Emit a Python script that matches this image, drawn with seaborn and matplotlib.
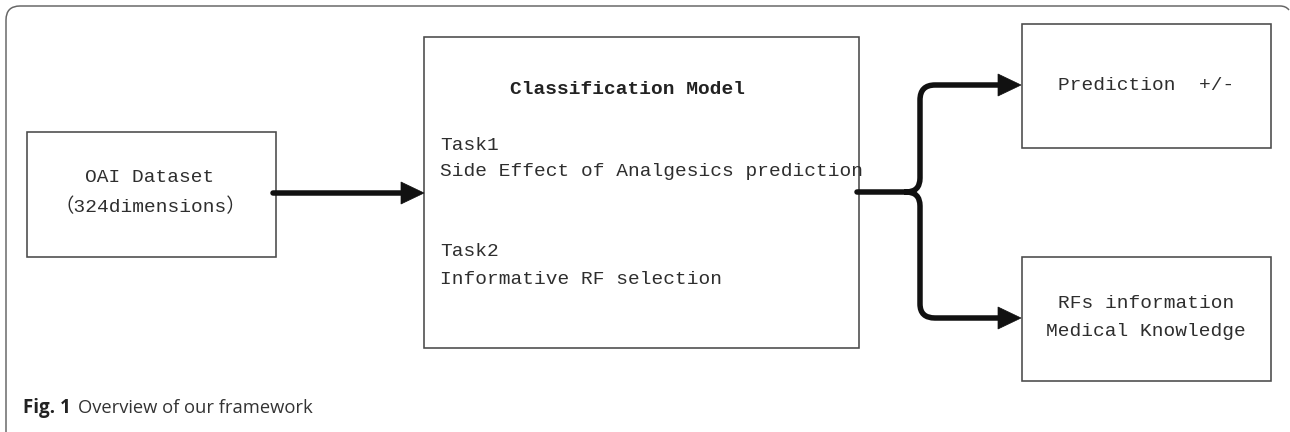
import matplotlib
matplotlib.use("Agg")
import matplotlib.pyplot as plt
import seaborn as sns
from matplotlib.patches import Rectangle, Polygon, PathPatch
from matplotlib.path import Path

# testi del diagramma
input_lines = ["OAI Dataset", "（324dimensions）"]
model_title = "Classification Model"
task_lines = ["Task1", "Side Effect of Analgesics prediction", "Task2", "Informative RF selection"]
output_top = ["Prediction  +/-"]
output_bottom = ["RFs information", "Medical Knowledge"]
caption_bold = "Fig. 1"
caption_text = "Overview of our framework"

sns.set_theme(style="white")
plt.rcParams['font.family'] = ['Liberation Mono', 'Noto Sans CJK SC', 'DejaVu Sans']

fig = plt.figure(figsize=(12.9, 4.32), dpi=100)
ax = fig.add_axes([0, 0, 1, 1])
ax.set_xlim(0, 1290)
ax.set_ylim(432, 0)
ax.axis('off')

PX = 0.72  # 1 pixel in punti
box_col = '#4a4a4a'
txt_col = '#2e2e2e'
fs = 14.0

# cornice esterna con angolo arrotondato
frame = Path([(6, 440), (6, 20), (6, 6), (20, 6), (1280, 6), (1286, 6), (1289, 10)],
             [Path.MOVETO, Path.LINETO, Path.CURVE3, Path.CURVE3, Path.LINETO, Path.CURVE3, Path.CURVE3])
ax.add_patch(PathPatch(frame, fill=False, edgecolor='#666666', lw=1.5 * PX))

def box(x0, y0, x1, y1):
    ax.add_patch(Rectangle((x0, y0), x1 - x0, y1 - y0, fill=False, edgecolor=box_col, lw=1.6 * PX))

box(27, 132, 276, 257)
box(424, 37, 859, 348)
box(1022, 24, 1271, 148)
box(1022, 257, 1271, 381)

# testi nei box
for txt, y in zip(input_lines, [178, 207]):
    ax.text(150, y, txt, ha='center', va='center', fontsize=fs, color=txt_col)

ax.text(510, 90, model_title, ha='left', va='center', fontsize=fs, color='#222222', fontweight='bold')
for txt, y in zip(task_lines, [145, 171, 252, 280]):
    ax.text(440, y, txt, ha='left', va='center', fontsize=fs, color=txt_col)

for txt, y in zip(output_top, [85]):
    ax.text(1146, y, txt, ha='center', va='center', fontsize=fs, color=txt_col)
for txt, y in zip(output_bottom, [304, 332]):
    ax.text(1146, y, txt, ha='center', va='center', fontsize=fs, color=txt_col)

# frecce
shaft = 5.5 * PX
ax.plot([273, 402], [193, 193], color='#111111', lw=shaft, solid_capstyle='round')

def head(xt, y):
    ax.add_patch(Polygon([(xt, y), (xt - 23, y - 11), (xt - 23, y + 11)], closed=True,
                         facecolor='#111111', edgecolor='#111111', lw=0.5))

head(424, 193)

brace = Path([(857, 192), (906, 192), (920, 192), (920, 178), (920, 100), (920, 85), (935, 85), (1000, 85),
              (906, 192), (920, 192), (920, 206), (920, 304), (920, 318), (935, 318), (1000, 318)],
             [Path.MOVETO, Path.LINETO, Path.CURVE3, Path.CURVE3, Path.LINETO, Path.CURVE3, Path.CURVE3, Path.LINETO,
              Path.MOVETO, Path.CURVE3, Path.CURVE3, Path.LINETO, Path.CURVE3, Path.CURVE3, Path.LINETO])
ax.add_patch(PathPatch(brace, fill=False, edgecolor='#111111', lw=shaft, capstyle='round', joinstyle='round'))
head(1021, 85)
head(1021, 318)

# didascalia
ax.text(23, 408, caption_bold, ha='left', va='center', fontsize=13.5, fontweight='bold',
        family='Open Sans', color='#222222')
ax.text(78, 408, caption_text, ha='left', va='center', fontsize=13.2,
        family='Open Sans', color='#333333')

fig.savefig('out.png', dpi=100)
